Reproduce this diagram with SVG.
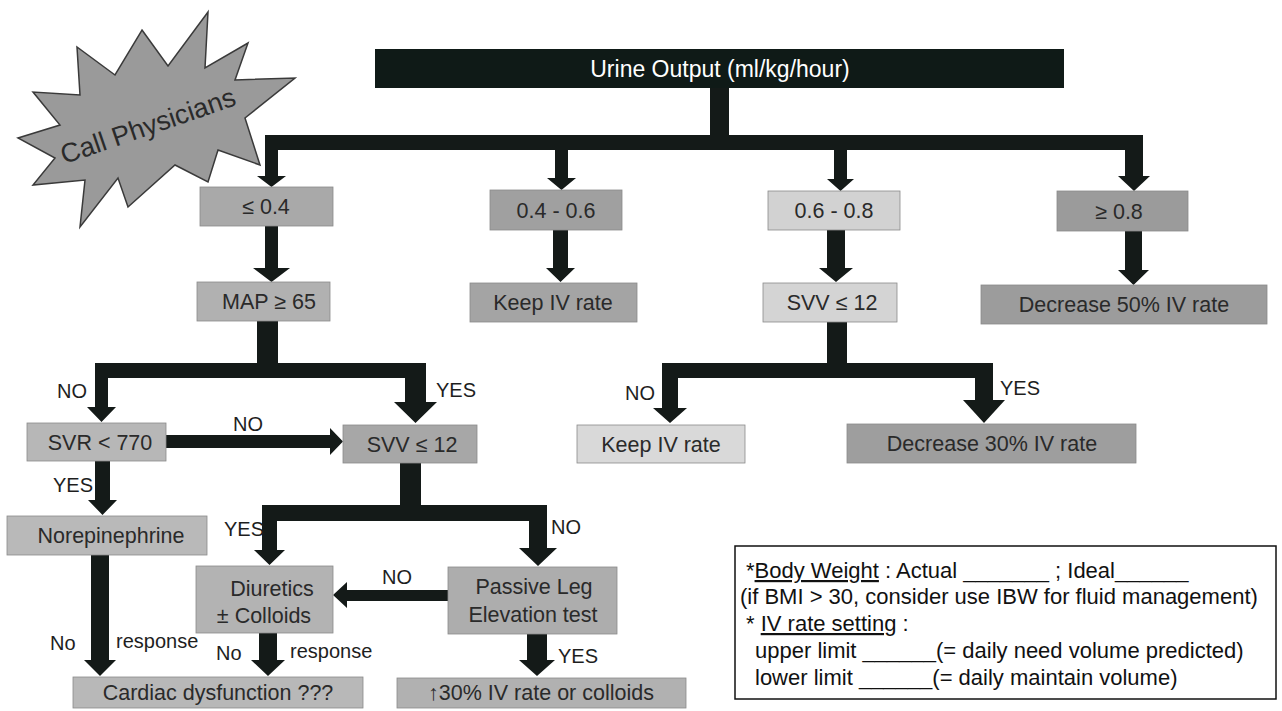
<svg xmlns="http://www.w3.org/2000/svg" width="1282" height="711" viewBox="0 0 1282 711">
<style>
  text { font-family: "Liberation Sans", Arial, sans-serif; fill: #2a2a2a; }
  .box { stroke: #8a8a8a; stroke-width: 0.8; }
  .bt { font-size: 21.5px; text-anchor: middle; }
  .lbl { font-size: 20px; fill: #1e1e1e; }
  .conn { fill: #141a18; }
  .note { font-size: 22px; fill: #111; }
</style>
<rect width="1282" height="711" fill="#ffffff"/>

<g id="connectors" class="conn">
  <rect x="710" y="86" width="19" height="52"/>
  <rect x="265" y="135" width="878" height="15"/>
  <path d="M265 135 H278 V176 H286 L271.5 187 L257 176 H265 Z"/>
  <path d="M555 148 H568 V178 H576 L561.5 190 L547 178 H555 Z"/>
  <path d="M834 148 H847 V179 H854 L840.5 191 L827 179 H834 Z"/>
  <path d="M1125 135 H1143 V176 H1150 L1134 191 L1118 176 H1125 Z"/>
  <path d="M265 226 H278 V268 H290 L271.5 282 L253 268 H265 Z"/>
  <path d="M553 230 H568 V268 H575 L560.5 282 L546 268 H553 Z"/>
  <path d="M827 230 H845 V268 H853 L836 282 L819 268 H827 Z"/>
  <path d="M1125 231 H1142 V270 H1149 L1133.5 285 L1118 270 H1125 Z"/>
  <rect x="257" y="321" width="21" height="43"/>
  <rect x="95" y="363" width="331" height="15"/>
  <path d="M95 363 H108 V407 H116 L101.5 422 L87 407 H95 Z"/>
  <path d="M405 363 H426 V402 H437 L415.5 423 L394 402 H405 Z"/>
  <path d="M166 435 H330 V428 L343 441.5 L330 455 V448 H166 Z"/>
  <path d="M95 461 H110 V500 H117 L102.5 515 L88 500 H95 Z"/>
  <path d="M91 555 H109 V660 H116 L100 676 L84 660 H91 Z"/>
  <rect x="400" y="463" width="21" height="44"/>
  <rect x="262" y="505" width="285" height="16"/>
  <path d="M262 505 H277 V550 H285 L269.5 565 L254 550 H262 Z"/>
  <path d="M529 505 H547 V548 H557 L538 566 L519 548 H529 Z"/>
  <path d="M448 590 H347 V582 L333 595 L347 608 V601 H448 Z"/>
  <path d="M259 633 H277 V660 H285 L268 676 L251 660 H259 Z"/>
  <path d="M527 634 H547 V660 H555 L537 676 L519 660 H527 Z"/>
  <rect x="827" y="322" width="20" height="42"/>
  <rect x="662" y="363" width="331" height="15"/>
  <path d="M662 363 H678 V408 H687 L670 423 L653 408 H662 Z"/>
  <path d="M975 363 H993 V400 H1005 L984 423 L963 400 H975 Z"/>
</g>

<g id="labels">
  <text class="lbl" x="57" y="398">NO</text>
  <text class="lbl" x="436" y="397">YES</text>
  <text class="lbl" x="233" y="431">NO</text>
  <text class="lbl" x="53" y="492">YES</text>
  <text class="lbl" x="224" y="536">YES</text>
  <text class="lbl" x="551" y="534">NO</text>
  <text class="lbl" x="382" y="584">NO</text>
  <text class="lbl" x="50" y="650">No</text>
  <text class="lbl" x="116" y="648">response</text>
  <text class="lbl" x="216" y="660">No</text>
  <text class="lbl" x="290" y="658">response</text>
  <text class="lbl" x="558" y="663">YES</text>
  <text class="lbl" x="625" y="400">NO</text>
  <text class="lbl" x="1000" y="395">YES</text>
</g>

<g id="call-physicians">
  <polygon points="142,30 168,66 208,12 205,68 248,43 235,80 295,78 245,118 260,165 218,150 208,182 175,165 128,207 118,178 80,227 85,180 33,185 55,158 18,138 60,125 33,92 80,95 77,47 115,75" fill="#9a9a9a" stroke="#3a3a3a" stroke-width="1.5" stroke-linejoin="miter"/>
  <text x="148" y="135" font-size="27" text-anchor="middle" fill="#1a1a1a" transform="rotate(-19 148 126)">Call Physicians</text>
</g>

<g id="urine-output">
  <rect x="375" y="49" width="689" height="39" fill="#0f1a17"/>
  <text x="720" y="77" font-size="23" text-anchor="middle" style="fill:#ffffff">Urine Output (ml/kg/hour)</text>
</g>

<g id="uo-le-04"><rect class="box" x="200" y="187" width="133" height="39" fill="#a9a9a9"/><text class="bt" x="266" y="214">≤ 0.4</text></g>
<g id="uo-04-06"><rect class="box" x="490" y="190" width="132" height="40" fill="#a0a0a0"/><text class="bt" x="556" y="218">0.4 - 0.6</text></g>
<g id="uo-06-08"><rect class="box" x="768" y="191" width="132" height="39" fill="#d2d2d2"/><text class="bt" x="834" y="218">0.6 - 0.8</text></g>
<g id="uo-ge-08"><rect class="box" x="1057" y="191" width="131" height="40" fill="#9b9b9b"/><text class="bt" x="1119" y="219">≥ 0.8</text></g>

<g id="map"><rect class="box" x="197" y="282" width="133" height="39" fill="#b1b1b1"/><text class="bt" x="269" y="309">MAP ≥ 65</text></g>
<g id="keep-iv-1"><rect class="box" x="470" y="283" width="167" height="39" fill="#a4a4a4"/><text class="bt" x="553" y="310">Keep IV rate</text></g>
<g id="svv-right"><rect class="box" x="763" y="283" width="134" height="39" fill="#d4d4d4"/><text class="bt" x="832" y="310">SVV ≤ 12</text></g>
<g id="decrease-50"><rect class="box" x="981" y="285" width="286" height="39" fill="#9c9c9c"/><text class="bt" x="1124" y="312">Decrease 50% IV rate</text></g>

<g id="svr"><rect class="box" x="27" y="423" width="139" height="38" fill="#b7b7b7"/><text class="bt" x="100" y="450">SVR &lt; 770</text></g>
<g id="svv-left"><rect class="box" x="343" y="425" width="134" height="38" fill="#a7a7a7"/><text class="bt" x="412" y="452">SVV ≤ 12</text></g>
<g id="keep-iv-2"><rect class="box" x="577" y="425" width="168" height="38" fill="#d9d9d9"/><text class="bt" x="661" y="452">Keep IV rate</text></g>
<g id="decrease-30"><rect class="box" x="847" y="424" width="289" height="39" fill="#9e9e9e"/><text class="bt" x="992" y="451">Decrease 30% IV rate</text></g>

<g id="norepinephrine"><rect class="box" x="7" y="516" width="200" height="39" fill="#b9b9b9"/><text class="bt" x="111" y="543">Norepinephrine</text></g>
<g id="diuretics"><rect class="box" x="196" y="566" width="137" height="67" fill="#b3b3b3"/><text class="bt" x="272" y="596">Diuretics</text><text class="bt" x="264" y="623">± Colloids</text></g>
<g id="plr"><rect class="box" x="448" y="567" width="169" height="67" fill="#adadad"/><text class="bt" x="534" y="594">Passive Leg</text><text class="bt" x="533" y="622">Elevation test</text></g>
<g id="cardiac"><rect class="box" x="73" y="677" width="290" height="31" fill="#b8b8b8"/><text class="bt" x="218" y="700">Cardiac dysfunction ???</text></g>
<g id="increase-30"><rect class="box" x="397" y="678" width="289" height="30" fill="#b1b1b1"/><text class="bt" x="541" y="700">↑30% IV rate or colloids</text></g>

<g id="note">
  <rect x="735" y="546" width="541" height="153" fill="#ffffff" stroke="#111" stroke-width="1.5"/>
  <text class="note" x="746" y="578">*<tspan text-decoration="underline">Body Weight</tspan> :  Actual _______ ; Ideal______</text>
  <text class="note" x="740" y="604">(if BMI &gt; 30, consider use IBW for fluid management)</text>
  <text class="note" x="746" y="631">* <tspan text-decoration="underline">IV rate setting</tspan> :</text>
  <text class="note" x="755" y="658">upper limit ______(= daily need volume predicted)</text>
  <text class="note" x="755" y="685">lower limit ______(= daily maintain volume)</text>
</g>
</svg>
